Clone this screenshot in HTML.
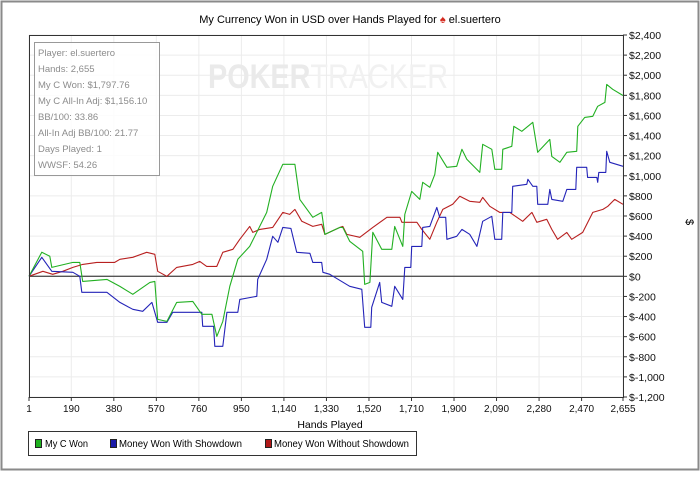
<!DOCTYPE html>
<html><head><meta charset="utf-8">
<style>
body{margin:0;background:#fff;}
svg text{font-family:"Liberation Sans",sans-serif;}
</style></head>
<body>
<svg id="chart" width="700" height="472" viewBox="0 0 700 472" xmlns="http://www.w3.org/2000/svg">
<rect x="1.5" y="1.5" width="697" height="468" fill="#fff" stroke="#8a8a8a" stroke-width="2"/>
<text x="350" y="23" font-size="11" text-anchor="middle" fill="#000">My Currency Won in USD over Hands Played for <tspan fill="#d42a1f">♠</tspan> el.suertero</text>
<g id="grid"></g>
<text x="208" y="88" font-size="34" font-weight="bold" textLength="240" lengthAdjust="spacingAndGlyphs" fill="#eaeaea">POKER<tspan fill="#f1f1f1" font-weight="normal">TRACKER</tspan></text>
<g id="series"></g>
<g id="axes"></g>
<g>
<rect x="34.5" y="42.5" width="125" height="133" fill="#fff" fill-opacity="0.85" stroke="#999"/>
<g font-size="9.5" fill="#8c8c8c">
<text x="38" y="56">Player: el.suertero</text>
<text x="38" y="72">Hands: 2,655</text>
<text x="38" y="88">My C Won: $1,797.76</text>
<text x="38" y="104">My C All-In Adj: $1,156.10</text>
<text x="38" y="120">BB/100: 33.86</text>
<text x="38" y="136">All-In Adj BB/100: 21.77</text>
<text x="38" y="152">Days Played: 1</text>
<text x="38" y="168">WWSF: 54.26</text>
</g></g>
<text x="330" y="428" font-size="10.5" text-anchor="middle">Hands Played</text>
<text x="0" y="0" font-size="11" text-anchor="middle" transform="translate(686,222) rotate(90)">$</text>
<g>
<rect x="28.5" y="431.5" width="388" height="24" fill="#fff" stroke="#333"/>
<g><rect x="35.5" y="439.5" width="6" height="8" fill="#1fb11f" stroke="#222"/><text x="45" y="447" font-size="10" textLength="43" lengthAdjust="spacingAndGlyphs">My C Won</text></g>
<g><rect x="110.5" y="439.5" width="6" height="8" fill="#1a1aa8" stroke="#222"/><text x="119" y="447" font-size="10" textLength="123" lengthAdjust="spacingAndGlyphs">Money Won With Showdown</text></g>
<g><rect x="265.5" y="439.5" width="6" height="8" fill="#b01818" stroke="#222"/><text x="274" y="447" font-size="10" textLength="135" lengthAdjust="spacingAndGlyphs">Money Won Without Showdown</text></g>
</g>
</svg>
<script>
const xTicks=[1,190,380,570,760,950,1140,1330,1520,1710,1900,2090,2280,2470,2655];
const xTickLabels=["1","190","380","570","760","950","1,140","1,330","1,520","1,710","1,900","2,090","2,280","2,470","2,655"];
const yTicks=[2400,2200,2000,1800,1600,1400,1200,1000,800,600,400,200,0,-200,-400,-600,-800,-1000,-1200];
const yTickLabels=["$2,400","$2,200","$2,000","$1,800","$1,600","$1,400","$1,200","$1,000","$800","$600","$400","$200","$0","$-200","$-400","$-600","$-800","$-1,000","$-1,200"];

const greenHands=[1,58,94,103,197,228,241,349,407,465,541,563,576,617,661,733,773,818,840,867,898,934,987,1063,1090,1135,1189,1211,1269,1309,1323,1390,1403,1434,1492,1501,1524,1537,1577,1622,1635,1671,1680,1711,1747,1760,1792,1814,1827,1868,1912,1935,1957,2015,2028,2069,2082,2113,2118,2158,2167,2203,2252,2274,2328,2337,2373,2404,2448,2453,2484,2520,2542,2574,2582,2609,2655];
const greenVals=[0,240,199,89,139,139,-50,-30,-100,-179,-60,-50,-428,-448,-259,-249,-378,-378,-597,-448,-99,169,298,636,895,1114,1114,765,587,636,417,487,487,348,249,-80,-60,438,269,269,497,298,616,845,765,935,885,1014,1233,1084,1094,1263,1164,1034,1313,1263,1064,1064,1263,1293,1492,1442,1532,1233,1362,1193,1134,1233,1243,1492,1581,1591,1691,1730,1909,1860,1798];

const blueHands=[1,58,103,197,228,237,349,407,465,509,550,576,617,643,773,777,826,831,867,885,934,943,1019,1023,1063,1090,1113,1135,1171,1197,1256,1269,1309,1314,1345,1434,1488,1501,1528,1532,1568,1577,1622,1635,1671,1680,1707,1711,1756,1760,1792,1823,1836,1863,1868,1912,1935,1970,2002,2028,2069,2082,2113,2118,2158,2162,2225,2230,2252,2270,2274,2319,2328,2337,2386,2404,2444,2448,2493,2497,2538,2542,2547,2578,2582,2596,2655];
const blueVals=[0,189,50,40,0,-159,-159,-259,-328,-348,-259,-457,-457,-358,-358,-497,-497,-696,-696,-358,-358,-229,-199,-30,169,398,338,487,477,239,229,139,139,40,20,-99,-129,-507,-507,-308,-60,-259,-298,-99,-229,89,89,298,298,487,497,686,587,587,368,398,467,418,298,547,597,368,368,636,636,895,915,965,895,895,716,716,865,765,746,865,865,1084,1084,984,984,935,1034,1034,1243,1134,1094];

const redHands=[1,63,107,152,197,241,304,384,407,465,527,563,576,617,661,733,764,795,840,867,912,943,987,1001,1032,1090,1135,1166,1189,1220,1269,1309,1323,1390,1403,1421,1479,1537,1600,1658,1667,1734,1756,1792,1823,1850,1894,1926,1970,2015,2028,2060,2104,2149,2181,2207,2248,2270,2314,2337,2363,2404,2426,2475,2520,2565,2587,2618,2655];
const redVals=[0,50,20,50,89,119,139,139,169,189,239,219,50,0,89,119,149,99,99,239,269,368,497,437,467,487,636,616,666,547,497,517,417,487,497,417,388,487,587,587,537,537,467,368,537,666,716,796,746,736,785,696,636,636,587,547,636,537,567,467,368,437,368,437,636,666,696,765,716];

const NS='http://www.w3.org/2000/svg';
const L=29,R=623,T=35,B=397;
const xMin=1,xMax=2655,yMin=-1200,yMax=2400;
function xs(h){return L+(h-xMin)/(xMax-xMin)*(R-L);}
function ys(v){return B-(v-yMin)/(yMax-yMin)*(B-T);}
function mk(tag,attrs,parent){const e=document.createElementNS(NS,tag);for(const k in attrs)e.setAttribute(k,attrs[k]);parent.appendChild(e);return e;}
const grid=document.getElementById('grid'),axes=document.getElementById('axes'),series=document.getElementById('series');
xTicks.forEach((t,i)=>{
  const x=xs(t);
  const g=mk('line',{x1:x,x2:x,y1:T,y2:B,stroke:'#ececec','stroke-width':1},grid);
  
  
  const tk=mk('line',{x1:x,x2:x,y1:B,y2:B+4,stroke:'#333'},axes);
  
  
  const tx=mk('text',{x:x,y:B+15,'font-size':10,'text-anchor':'middle',fill:'#111'},axes);
  tx.textContent=xTickLabels[i];
  
  
});
yTicks.forEach((t,i)=>{
  const y=ys(t);
  const g=mk('line',{x1:L,x2:R,y1:y,y2:y,stroke:'#ececec','stroke-width':1},grid);
  
  
  const tk=mk('line',{x1:R,x2:R+4,y1:y,y2:y,stroke:'#333'},axes);
  
  
  const tx=mk('text',{x:R+6,y:y+4,'font-size':10.5,fill:'#111'},axes);
  tx.textContent=yTickLabels[i];
  
  
});
const zero=mk('line',{x1:L,x2:R,y1:ys(0),y2:ys(0),stroke:'#555','stroke-width':1.3},grid);


const frame=mk('path',{d:`M${L+0.5},${B} L${L+0.5},${T+0.5} L${R},${T+0.5} M${L},${B+0.5} L${R+0.5},${B+0.5} L${R+0.5},${T}`,fill:'none',stroke:'#333'},axes);


function line(hs,vs,color,name){
  const d=hs.map((h,i)=>(i?'L':'M')+xs(h).toFixed(1)+','+ys(vs[i]).toFixed(1)).join(' ');
  const p=mk('path',{d:d,fill:'none',stroke:color,'stroke-width':1.1,'stroke-linejoin':'round'},series);
  
  
}
line(redHands,redVals,'#b82020','line-without-showdown');
line(blueHands,blueVals,'#2424b8','line-with-showdown');
line(greenHands,greenVals,'#22b022','line-my-c-won');
</script>
</body></html>
